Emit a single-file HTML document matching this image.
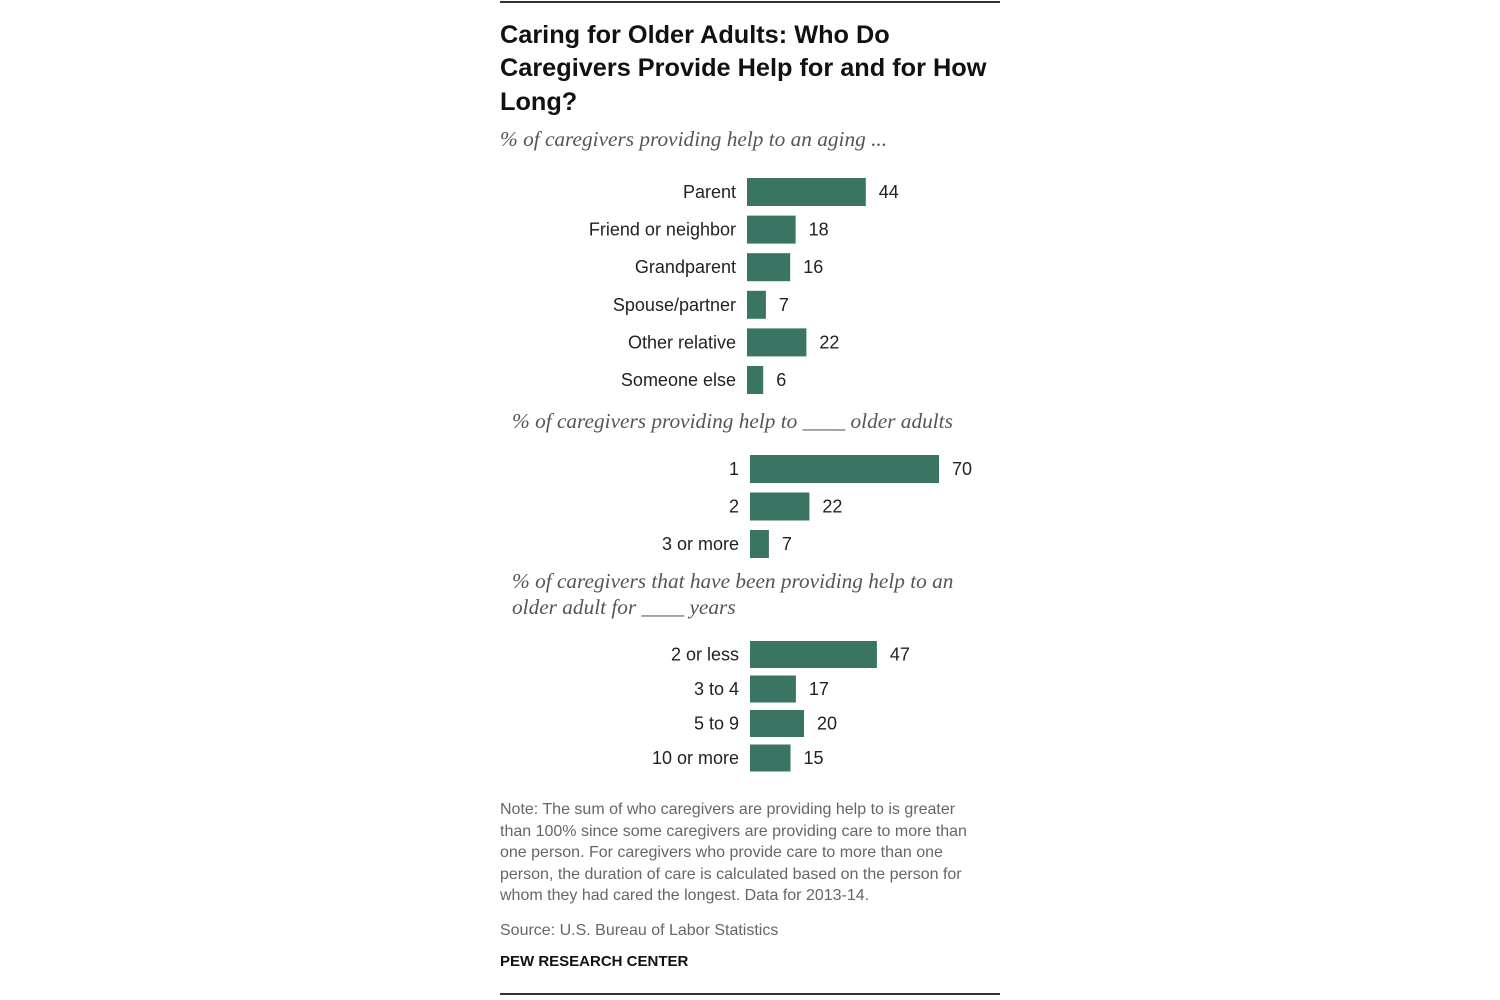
<!DOCTYPE html>
<html><head><meta charset="utf-8"><style>
body{margin:0;background:#fff;}
svg{display:block;}
.t{font-family:"Liberation Sans",sans-serif;font-weight:bold;font-size:25.3px;fill:#111;}
.s{font-family:"Liberation Serif",serif;font-style:italic;font-size:21.3px;fill:#555;}
.l{font-family:"Liberation Sans",sans-serif;font-size:18px;fill:#222;}
.n{font-family:"Liberation Sans",sans-serif;font-size:16px;fill:#666;}
</style></head><body>
<svg id="c" width="1500" height="1000">
<line x1="500" y1="2" x2="1000" y2="2" stroke="#333" stroke-width="2"/>
<text class="t" x="500" y="43">Caring for Older Adults: Who Do</text>
<text class="t" x="500" y="76">Caregivers Provide Help for and for How</text>
<text class="t" x="500" y="110">Long?</text>
<text class="s" x="500" y="146">% of caregivers providing help to an aging ...</text>
<text class="s" x="512" y="428">% of caregivers providing help to ____ older adults</text>
<text class="s" x="512" y="588">% of caregivers that have been providing help to an</text>
<text class="s" x="512" y="614">older adult for ____ years</text>
<text class="n" x="500" y="814">Note: The sum of who caregivers are providing help to is greater</text>
<text class="n" x="500" y="836">than 100% since some caregivers are providing care to more than</text>
<text class="n" x="500" y="857">one person. For caregivers who provide care to more than one</text>
<text class="n" x="500" y="879">person, the duration of care is calculated based on the person for</text>
<text class="n" x="500" y="900">whom they had cared the longest. Data for 2013-14.</text>
<text class="n" x="500" y="935">Source: U.S. Bureau of Labor Statistics</text>
<text x="500" y="966" style="font-family:'Liberation Sans',sans-serif;font-weight:bold;font-size:15px;fill:#111">PEW RESEARCH CENTER</text>
<line x1="500" y1="994" x2="1000" y2="994" stroke="#333" stroke-width="2"/>
</svg>
<script>
const whoCats=["Parent","Friend or neighbor","Grandparent","Spouse/partner","Other relative","Someone else"];
const whoVals=[44,18,16,7,22,6];
const countCats=["1","2","3 or more"];
const countVals=[70,22,7];
const yearCats=["2 or less","3 to 4","5 to 9","10 or more"];
const yearVals=[47,17,20,15];
const NS="http://www.w3.org/2000/svg";
const svg=document.getElementById('c');
const scale=v=>v*2.7;
function group(cats,vals,x0,y0,pitch,h,name){
  cats.forEach((c,i)=>{
    const y=y0+i*pitch;
    const r=document.createElementNS(NS,'rect');
    r.setAttribute('x',x0);r.setAttribute('y',y);
    r.setAttribute('width',scale(vals[i]));r.setAttribute('height',h);
    r.setAttribute('fill','#3a7563');
    
    
    svg.appendChild(r);
    const l=document.createElementNS(NS,'text');
    l.setAttribute('x',x0-11);l.setAttribute('y',y+h/2+6);
    l.setAttribute('text-anchor','end');l.setAttribute('class','l');
    l.textContent=c;
    
    
    svg.appendChild(l);
    const v=document.createElementNS(NS,'text');
    v.setAttribute('x',x0+scale(vals[i])+13);v.setAttribute('y',y+h/2+6);
    v.setAttribute('class','l');
    v.textContent=vals[i];
    
    
    svg.appendChild(v);
  });
}
group(whoCats,whoVals,747,178,37.6,28,'who');
group(countCats,countVals,750,455,37.5,28,'count');
group(yearCats,yearVals,750,641,34.5,27,'years');
</script>
</body></html>
